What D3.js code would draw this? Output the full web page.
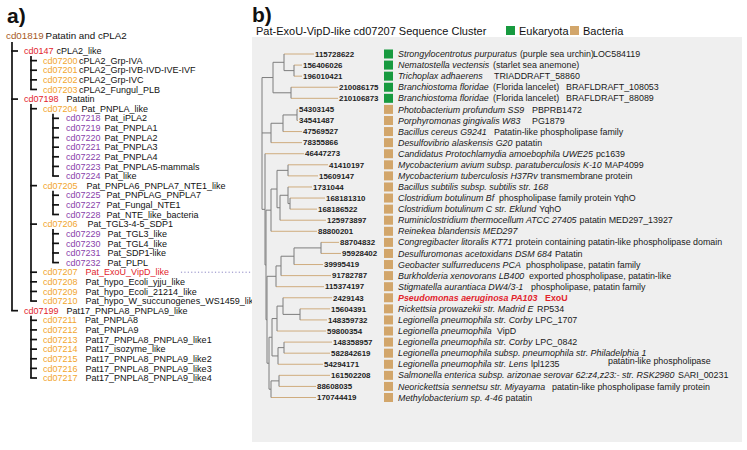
<!DOCTYPE html>
<html><head><meta charset="utf-8">
<script src="https://cdn.jsdelivr.net/npm/d3@7"></script>
<style>
body{margin:0;background:#fff}
svg{display:block;font-family:"Liberation Sans",Arial,Helvetica,sans-serif}
text{white-space:pre}
</style></head><body>
<svg id="c" width="747" height="450"></svg>
<script>
// ---------------- Panel a data ----------------
const aCodes = ["cd01819","cd0147","cd07200","cd07201","cd07202","cd07203","cd07198","cd07204","cd07218","cd07219","cd07220","cd07221","cd07222","cd07223","cd07224","cd07205","cd07225","cd07227","cd07228","cd07206","cd07229","cd07230","cd07231","cd07232","cd07207","cd07208","cd07209","cd07210","cd07199","cd07211","cd07212","cd07213","cd07214","cd07215","cd07216","cd07217"];
const aNames = ["Patatin and cPLA2","cPLA2_like","cPLA2_Grp-IVA","cPLA2_Grp-IVB-IVD-IVE-IVF","cPLA2_Grp-IVC","cPLA2_Fungul_PLB","Patatin","Pat_PNPLA_like","Pat_iPLA2","Pat_PNPLA1","Pat_PNPLA2","Pat_PNPLA3","Pat_PNPLA4","Pat_PNPLA5-mammals","Pat_like","Pat_PNPLA6_PNPLA7_NTE1_like","Pat_PNPLAG_PNPLA7","Pat_Fungal_NTE1","Pat_NTE_like_bacteria","Pat_TGL3-4-5_SDP1","Pat_TGL3_like","Pat_TGL4_like","Pat_SDP1-like","Pat_PLPL","Pat_ExoU_VipD_like","Pat_hypo_Ecoli_yjju_like","Pat_hypo_Ecoli_21214_like","Pat_hypo_W_succunogenes_WS1459_like","Pat17_PNPLA8_PNPLA9_like","Pat_PNPLA8","Pat_PNPLA9","Pat17_PNPLA8_PNPLA9_like1","Pat17_isozyme_like","Pat17_PNPLA8_PNPLA9_like2","Pat17_PNPLA8_PNPLA9_like3","Pat17_PNPLA8_PNPLA9_like4"];
const aParents = ["","cd01819","cd0147","cd0147","cd0147","cd0147","cd01819","cd07198","cd07204","cd07204","cd07204","cd07204","cd07204","cd07204","cd07204","cd07198","cd07205","cd07205","cd07205","cd07198","cd07206","cd07206","cd07206","cd07206","cd07198","cd07198","cd07198","cd07198","cd01819","cd07199","cd07199","cd07199","cd07199","cd07199","cd07199","cd07199"];
const aHighlight = "cd07207";

// ---------------- Panel b data ----------------
const bTitle = "Pat-ExoU-VipD-like cd07207 Sequence Cluster";
const legendLabels = ["Eukaryota","Bacteria"];
const bNewick = "(((115728622:0.30,(156406026:0.08,196010421:0.08):0.10):0.11,(210086175:0.47,210106873:0.47):0.18):0.11,(((54303145:0.01,34541487:0.01):0.14,47569527:0.19):0.12,78355866:0.31):0.09,(46447273:0.39,((((41410197:0.40,15609147:0.30):0.11,((1731044:0.24,(168181310:0.35,168186522:0.27):0.02):0.08,125973897:0.46):0.03):0.06,88800201:0.46):0.05,(((((88704832:0.18,95928402:0.20):0.27,39995419:0.29):0.13,91782787:0.50):0.05,115374197:0.48):0.09,((((2429143:0.49,(15604391:0.30,148359732:0.27):0.17):0.06,59800354:0.49):0.05,((148358957:0.48,582842619:0.46):0.06,54294171:0.45):0.06):0.03,((161502208:0.51,88608035:0.37):0.08,170744419:0.45):0.02):0.02):0.01):0.01):0.03);";
const bKingdom = ["Eukaryota","Eukaryota","Eukaryota","Eukaryota","Eukaryota","Bacteria","Bacteria","Bacteria","Bacteria","Bacteria","Bacteria","Bacteria","Bacteria","Bacteria","Bacteria","Bacteria","Bacteria","Bacteria","Bacteria","Bacteria","Bacteria","Bacteria","Bacteria","Bacteria","Bacteria","Bacteria","Bacteria","Bacteria","Bacteria","Bacteria","Bacteria","Bacteria"];
const bSpecies = ["Strongylocentrotus purpuratus","Nematostella vectensis","Trichoplax adhaerens","Branchiostoma floridae","Branchiostoma floridae","Photobacterium profundum SS9","Porphyromonas gingivalis W83","Bacillus cereus G9241","Desulfovibrio alaskensis G20","Candidatus Protochlamydia amoebophila UWE25","Mycobacterium avium subsp. paratuberculosis K-10","Mycobacterium tuberculosis H37Rv","Bacillus subtilis subsp. subtilis str. 168","Clostridium botulinum Bf","Clostridium botulinum C str. Eklund","Ruminiclostridium thermocellum ATCC 27405","Reinekea blandensis MED297","Congregibacter litoralis KT71","Desulfuromonas acetoxidans DSM 684","Geobacter sulfurreducens PCA","Burkholderia xenovorans LB400","Stigmatella aurantiaca DW4/3-1","Pseudomonas aeruginosa PA103","Rickettsia prowazekii str. Madrid E","Legionella pneumophila str. Corby","Legionella pneumophila","Legionella pneumophila str. Corby","Legionella pneumophila subsp. pneumophila str. Philadelphia 1","Legionella pneumophila str. Lens","Salmonella enterica subsp. arizonae serovar 62:z4,z23:- str. RSK2980","Neorickettsia sennetsu str. Miyayama","Methylobacterium sp. 4-46"];
const bAnnot = ["(purple sea urchin)","(starlet sea anemone)","TRIADDRAFT_58860","(Florida lancelet)","(Florida lancelet)","PBPRB1472","PG1879","Patatin-like phospholipase family","patatin","pc1639","MAP4099","transmembrane protein","","phospholipase family protein YqhO","YqhO","patatin MED297_13927","","protein containing patatin-like phospholipase domain","Patatin","phospholipase, patatin family","exported phospholipase, patatin-like","phospholipase, patatin family","ExoU","RP534","LPC_1707","VipD","LPC_0842","","lpl1235","SARI_00231","patatin-like phospholipase family protein","patatin"];
const bAnnot2 = ["LOC584119","","","BRAFLDRAFT_108053","BRAFLDRAFT_88089","","","","","","","","","","","","","","","","","","","","","","","","patatin-like phospholipase","","",""];
const bHighlightRow = 22;

// ---------------- Drawing ----------------
const svg = d3.select("#c");

// ===== Panel a =====
const gA = svg.append("g");
gA.append("text").attr("x",7).attr("y",23).attr("font-size",21).attr("font-weight","bold").attr("fill","#111").text("a)");

const aRows = aCodes.map((c,i)=>({id:c,name:aNames[i],parent:aParents[i]}));
const aRoot = d3.stratify().id(d=>d.id).parentId(d=>d.parent||null)(aRows);
const aOrder = [];
aRoot.eachBefore(n=>aOrder.push(n));
const aY = d3.scaleLinear().domain([1,35]).range([51,378]);
aOrder.forEach((n,i)=>{ n.yy = i===0 ? 36 : aY(i); });

const depthColor = ["#a65a1f","#e2242c","#f2a52e","#8a3fab"];
const codeX = [6,24,43,66];
const vX = [12,31,53];
const tickLen = [6,6,6];
function labelGap(n){
  if(n.depth===0) return 2;
  if(n.depth===1) return n.id==="cd0147"?3:8;
  const p=n.parent.id;
  if(n.depth===2){
    if(p==="cd0147") return 1.5;
    if(p==="cd07199") return 8;
    if(n.id==="cd07204") return 4;
    if(n.id==="cd07205") return 9;
    if(n.id==="cd07206") return 10;
    return 8;
  }
  if(p==="cd07204") return 4;
  if(p==="cd07205") return 6;
  return 7;
}
aOrder.forEach(n=>{
  if(!n.children) return;
  const kids=n.children, last=kids[kids.length-1];
  const x=vX[n.depth];
  gA.append("line").attr("x1",x).attr("x2",x).attr("y1",n.yy+(n.depth===0?6:5)).attr("y2",last.yy)
    .attr("stroke","#111").attr("stroke-width",1.7);
  kids.forEach(k=>{
    gA.append("line").attr("x1",x-0.85).attr("x2",x+tickLen[n.depth]).attr("y1",k.yy).attr("y2",k.yy)
      .attr("stroke","#111").attr("stroke-width",1.7);
  });
});
aOrder.forEach(n=>{
  const fs = n.depth===0?9.8:9;
  const t = gA.append("text").attr("x",codeX[n.depth]).attr("y",n.yy).attr("dy","0.35em").attr("font-size",fs);
  t.append("tspan").attr("fill",depthColor[n.depth]).text(n.id);
  t.append("tspan").attr("dx",labelGap(n)).attr("fill",n.id===aHighlight?"#e2242c":"#111").text(n.data.name);
  if(n.id===aHighlight){
    const bb=t.node().getBBox();
    gA.append("line").attr("x1",bb.x+bb.width+12).attr("x2",252).attr("y1",n.yy).attr("y2",n.yy)
      .attr("stroke","#8c86c4").attr("stroke-width",1).attr("stroke-dasharray","1.2,2.2");
  }
});

// ===== Panel b =====
const gB = svg.append("g");
gB.append("rect").attr("x",252).attr("y",37).attr("width",490).attr("height",405).attr("fill","#efefef");
gB.append("text").attr("x",252).attr("y",22).attr("font-size",21).attr("font-weight","bold").attr("fill","#111").text("b)");
gB.append("text").attr("x",256).attr("y",31).attr("dy","0.35em").attr("font-size",11).attr("fill","#111").text(bTitle);

const kColor = d3.scaleOrdinal().domain(legendLabels).range(["#179a3f","#d2a66b"]);
const legX = [506,570];
legendLabels.forEach((l,i)=>{
  gB.append("rect").attr("x",legX[i]).attr("y",26).attr("width",9).attr("height",9).attr("fill",kColor(l));
  gB.append("text").attr("x",legX[i]+13).attr("y",31).attr("dy","0.35em").attr("font-size",11).attr("fill","#111").text(l);
});

function parseNewick(str){
  const s=str.replace(/\s+/g,"");
  let i=0;
  function node(){
    const n={};
    if(s[i]==="("){
      i++; n.children=[node()];
      while(s[i]===","){ i++; n.children.push(node()); }
      i++;
    }
    let name=""; while(i<s.length && !":,();".includes(s[i])) name+=s[i++];
    n.name=name;
    if(s[i]===":"){ i++; let num=""; while(i<s.length && !",();".includes(s[i])) num+=s[i++]; n.length=+num; }
    else n.length=0;
    return n;
  }
  return node();
}
const bRoot = d3.hierarchy(parseNewick(bNewick));
bRoot.eachBefore(d=>{ d.dist = d.parent ? d.parent.dist + d.data.length : 0; });
const leaves = bRoot.leaves();
const bx = d3.scaleLinear().domain([0,1]).range([262,362]);
const by = d3.scaleLinear().domain([0,leaves.length-1]).range([54,397.5]);
leaves.forEach((l,i)=>{ l.yy = by(i); l.row=i; });
bRoot.eachAfter(d=>{ if(d.children){ d.yy=(d.children[0].yy+d.children[d.children.length-1].yy)/2; } });

const tan="#cfac7e", gray="#7d7d7d";
bRoot.descendants().forEach(d=>{
  if(!d.parent) return;
  gB.append("line").attr("x1",bx(d.parent.dist)).attr("x2",bx(d.dist)).attr("y1",d.yy).attr("y2",d.yy)
    .attr("stroke",d.children?gray:tan).attr("stroke-width",1);
});
bRoot.descendants().forEach(d=>{
  if(!d.children) return;
  const k=d.children;
  gB.append("line").attr("x1",bx(d.dist)).attr("x2",bx(d.dist)).attr("y1",k[0].yy).attr("y2",k[k.length-1].yy)
    .attr("stroke",gray).attr("stroke-width",1);
});
leaves.forEach(l=>{
  gB.append("text").attr("x",bx(l.dist)+1).attr("y",l.yy).attr("dy","0.35em").attr("font-size",7.9)
    .attr("font-weight","bold").attr("fill","#222").text(l.data.name);
});

const annotX = [513,493,494,493,493,532,532,494,515,583,559,523,0,499,513,553,0,509,543,526,529,531,545,537,521,497,520,0,520,678,552,503];
const annot2X = {0:593,3:566,4:566,28:608};
const sFs = 8.9;
leaves.forEach((l,i)=>{
  const y=l.yy;
  gB.append("rect").attr("x",384).attr("y",y-4.5).attr("width",9).attr("height",9).attr("fill",kColor(bKingdom[i]));
  const hl = i===bHighlightRow;
  const sp = gB.append("text").attr("x",398).attr("y",y).attr("dy","0.35em").attr("font-size",sFs)
    .attr("font-style","italic").attr("fill",hl?"#e2242c":"#1a1a1a").attr("font-weight",hl?"bold":"normal").text(bSpecies[i]);
  const end = 398 + sp.node().getComputedTextLength();
  if(bAnnot[i]){
    const ax = Math.max(annotX[i], end+3);
    gB.append("text").attr("x",ax).attr("y",y).attr("dy","0.35em").attr("font-size",sFs)
      .attr("fill",hl?"#e2242c":"#1a1a1a").attr("font-weight",hl?"bold":"normal").text(bAnnot[i]);
  }
  if(bAnnot2[i]){
    gB.append("text").attr("x",annot2X[i]).attr("y",y-(i===28?3:0)).attr("dy","0.35em").attr("font-size",sFs)
      .attr("fill","#1a1a1a").text(bAnnot2[i]);
  }
});
</script>
</body></html>
